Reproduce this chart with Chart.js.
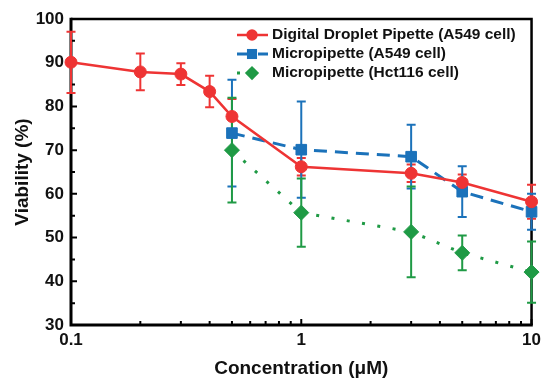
<!DOCTYPE html>
<html><head><meta charset="utf-8">
<script src="https://cdn.jsdelivr.net/npm/chart.js@4.4.1/dist/chart.umd.min.js"></script>
<style>html,body{margin:0;padding:0;background:#fff}#wrap{width:546px;height:379px}</style>
</head><body><div id="wrap"><canvas id="c" width="546" height="379"></canvas></div>
<script>
const seriesNames = ['Digital Droplet Pipette (A549 cell)', 'Micropipette (A549 cell)', 'Micropipette (Hct116 cell)'];
const ddpX = [0.1, 0.2, 0.3, 0.4, 0.5, 1, 3, 5, 10];
const ddpY = [90.1, 87.9, 87.4, 83.4, 77.7, 66.2, 64.7, 62.6, 58.2];
const ddpErr = [7, 4.2, 2.5, 3.6, 4, 2, 2, 1.8, 3.9];
const mpX = [0.5, 1, 3, 5, 10];
const mpY = [73.9, 70.1, 68.5, 60.5, 55.9];
const mpErr = [12.2, 11, 7.3, 5.8, 4.1];
const hctX = [0.5, 1, 3, 5, 10];
const hctY = [70.0, 55.7, 51.3, 46.5, 42.1];
const hctErr = [12, 7.8, 10.4, 4, 7];
const xTickValues = [0.1, 1, 10];
const xMinorTicks = [0.2,0.3,0.4,0.5,0.6,0.7,0.8,0.9,2,3,4,5,6,7,8,9];
const yTickValues = [30, 40, 50, 60, 70, 80, 90, 100];
const yMinorTicks = [35, 45, 55, 65, 75, 85, 95];
const xTitle = 'Concentration (\u03BCM)';
const yTitle = 'Viability (%)';

const RED = '#ee3434', BLUE = '#1b72ba', GREEN = '#1f9a45';
const FONT = '"Liberation Sans", Arial, sans-serif';

function pts(xs, ys){ return xs.map((x,i)=>({x:x, y:ys[i]})); }

const errs = [ddpErr, mpErr, hctErr];

const decor = {
  id: 'decor',
  beforeDatasetsDraw(chart){
    const ctx = chart.ctx, a = chart.chartArea, xs = chart.scales.x, ys = chart.scales.y;
    ctx.save();
    ctx.strokeStyle = '#000';
    ctx.lineWidth = 2.5;
    ctx.beginPath();
    ctx.moveTo(a.left, a.top); ctx.lineTo(a.right, a.top); ctx.lineTo(a.right, a.bottom);
    ctx.stroke();
    ctx.lineWidth = 3;
    ctx.beginPath();
    ctx.moveTo(a.left, a.top - 1.25); ctx.lineTo(a.left, a.bottom); ctx.lineTo(a.right + 1.25, a.bottom);
    ctx.stroke();
    ctx.lineWidth = 2;
    ctx.beginPath();
    yTickValues.forEach(v=>{ const y = ys.getPixelForValue(v); ctx.moveTo(a.left, y); ctx.lineTo(a.left+6, y); });
    yMinorTicks.forEach(v=>{ const y = ys.getPixelForValue(v); ctx.moveTo(a.left, y); ctx.lineTo(a.left+4, y); });
    xTickValues.forEach(v=>{ const x = xs.getPixelForValue(v); ctx.moveTo(x, a.bottom); ctx.lineTo(x, a.bottom-6); });
    xMinorTicks.forEach(v=>{ const x = xs.getPixelForValue(v); ctx.moveTo(x, a.bottom); ctx.lineTo(x, a.bottom-4); });
    ctx.stroke();
    ctx.lineWidth = 2;
    chart.data.datasets.forEach((ds, di)=>{
      ctx.strokeStyle = ds.borderColor;
      ds.data.forEach((p, i)=>{
        const e = errs[di][i];
        const x = xs.getPixelForValue(p.x);
        const y1 = ys.getPixelForValue(p.y + e), y2 = ys.getPixelForValue(p.y - e);
        ctx.beginPath();
        ctx.moveTo(x, y1); ctx.lineTo(x, y2);
        ctx.moveTo(x-4.5, y1); ctx.lineTo(x+4.5, y1);
        ctx.moveTo(x-4.5, y2); ctx.lineTo(x+4.5, y2);
        ctx.stroke();
      });
    });
    ctx.restore();
  },
  afterDraw(chart){
    const ctx = chart.ctx, a = chart.chartArea;
    ctx.save();
    const rows = [35, 54, 73];
    ctx.font = 'bold 15.5px ' + FONT;
    ctx.textBaseline = 'middle';
    ctx.textAlign = 'left';
    chart.data.datasets.forEach((ds, i)=>{
      const y = rows[i];
      ctx.save();
      ctx.strokeStyle = ds.borderColor;
      ctx.lineWidth = ds.borderWidth;
      ctx.setLineDash(ds.borderDash || []);
      ctx.beginPath(); ctx.moveTo(237, y); ctx.lineTo(268, y); ctx.stroke();
      ctx.restore();
      ctx.fillStyle = ds.borderColor;
      ctx.beginPath();
      const r = ds.pointRadius*0.95;
      if (ds.pointStyle === 'circle') ctx.arc(252, y, r, 0, Math.PI*2);
      else if (ds.pointStyle === 'rect') { const s = Math.SQRT1_2*r; ctx.rect(252-s, y-s, 2*s, 2*s); }
      else { ctx.moveTo(252-r, y); ctx.lineTo(252, y-r); ctx.lineTo(252+r, y); ctx.lineTo(252, y+r); ctx.closePath(); }
      ctx.fill();
      ctx.fillStyle = '#111';
      ctx.fillText(seriesNames[i], 272, y);
    });
    ctx.fillStyle = '#111';
    ctx.font = 'bold 19px ' + FONT;
    ctx.textAlign = 'center';
    ctx.textBaseline = 'middle';
    ctx.fillText(xTitle, (a.left + a.right)/2, 369);
    ctx.translate(23, (a.top + a.bottom)/2);
    ctx.rotate(-Math.PI/2);
    ctx.fillText(yTitle, 0, 0);
    ctx.restore();
  }
};

new Chart(document.getElementById('c'), {
  type: 'scatter',
  data: {
    datasets: [
      { label: seriesNames[0], data: pts(ddpX, ddpY), showLine: true, borderColor: RED, backgroundColor: RED,
        borderWidth: 2.5, pointStyle: 'circle', pointRadius: 6, pointBorderWidth: 1, clip: false },
      { label: seriesNames[1], data: pts(mpX, mpY), showLine: true, borderColor: BLUE, backgroundColor: BLUE,
        borderWidth: 3, borderDash: [13, 8], pointStyle: 'rect', pointRadius: 7.5, pointBorderWidth: 1, clip: false },
      { label: seriesNames[2], data: pts(hctX, hctY), showLine: true, borderColor: GREEN, backgroundColor: GREEN,
        borderWidth: 3, borderDash: [3, 12.5], pointStyle: 'rectRot', pointRadius: 7.5, pointBorderWidth: 1, clip: false }
    ]
  },
  options: {
    responsive: false, animation: false, devicePixelRatio: 1,
    layout: { padding: { left: 0, top: 19, right: 10, bottom: 0 } },
    plugins: { legend: { display: false }, tooltip: { enabled: false } },
    scales: {
      x: {
        type: 'logarithmic', min: 0.1, max: 10,
        grid: { display: false, drawTicks: false }, border: { display: false },
        afterBuildTicks: s => { s.ticks = xTickValues.map(v => ({ value: v })); },
        afterFit: s => { s.height = 54; },
        ticks: { autoSkip: false, maxRotation: 0, padding: 5, color: '#111',
          font: { family: FONT, size: 17, weight: 'bold' },
          callback: v => String(v) }
      },
      y: {
        min: 30, max: 100,
        grid: { display: false, drawTicks: false }, border: { display: false },
        afterBuildTicks: s => { s.ticks = yTickValues.map(v => ({ value: v })); },
        afterFit: s => { s.width = 71; },
        ticks: { padding: 7, color: '#111', font: { family: FONT, size: 17, weight: 'bold' } }
      }
    }
  },
  plugins: [decor]
});
</script>
</body></html>
